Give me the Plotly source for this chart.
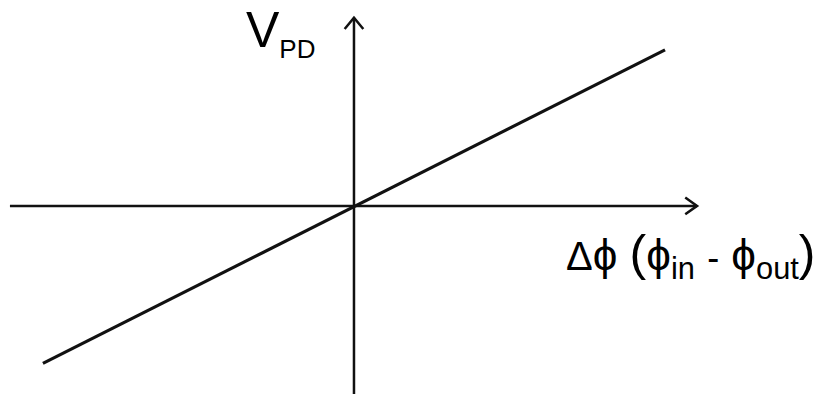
import plotly.graph_objects as go

# Phase detector transfer characteristic: V_PD rises linearly with the phase difference
dphi = [-1.0, 1.0]
vpd = [-0.505, 0.5]

# Extents of the drawn axes (arrow tips) in data units
x_axis_span = [-1.106, 1.103]
y_axis_span = [-0.62, 0.603]

x_label = ("<span style='font-size:40px'>Δ</span>ϕ "
           "<span style='font-size:50px'>(</span>ϕ<sub>in</sub> "
           "<span style='font-size:36px'>-</span> ϕ<sub>out</sub>"
           "<span style='font-size:50px'>)</span>")
y_label = "V<sub><span style='font-size:26px'>PD</span></sub>"

ink = "#111111"
fig = go.Figure()

# horizontal axis with open arrowhead
fig.add_trace(go.Scatter(x=x_axis_span, y=[0, 0], mode="lines",
                         line=dict(color=ink, width=2.5), hoverinfo="skip"))
hx = x_axis_span[1]
fig.add_trace(go.Scatter(x=[hx - 0.038, hx, hx - 0.038], y=[0.027, 0, -0.027], mode="lines",
                         line=dict(color=ink, width=2.5), hoverinfo="skip"))

# vertical axis with open arrowhead
fig.add_trace(go.Scatter(x=[0, 0], y=y_axis_span, mode="lines",
                         line=dict(color=ink, width=2.5), hoverinfo="skip"))
vy = y_axis_span[1]
fig.add_trace(go.Scatter(x=[-0.03, 0, 0.03], y=[vy - 0.036, vy, vy - 0.036], mode="lines",
                         line=dict(color=ink, width=2.5), hoverinfo="skip"))

# characteristic line
fig.add_trace(go.Scatter(x=dphi, y=vpd, mode="lines",
                         line=dict(color=ink, width=3.2), hoverinfo="skip"))

fig.add_annotation(x=-0.355, y=0.447, xref="x", yref="y", text=y_label, showarrow=False,
                   xanchor="left", yanchor="bottom",
                   font=dict(family="Liberation Sans, Arial", size=50, color="#000"))
fig.add_annotation(x=0.675, y=-0.262, xref="x", yref="y", text=x_label, showarrow=False,
                   xanchor="left", yanchor="bottom",
                   font=dict(family="Liberation Sans, Arial", size=44, color="#000"))

fig.update_layout(
    width=819, height=394, margin=dict(l=0, r=0, t=0, b=0),
    paper_bgcolor="white", plot_bgcolor="white", showlegend=False,
    xaxis=dict(range=[-1.138, 1.495], visible=False, fixedrange=True),
    yaxis=dict(range=[-0.603, 0.660], visible=False, fixedrange=True),
)

fig.write_html("out.html")
